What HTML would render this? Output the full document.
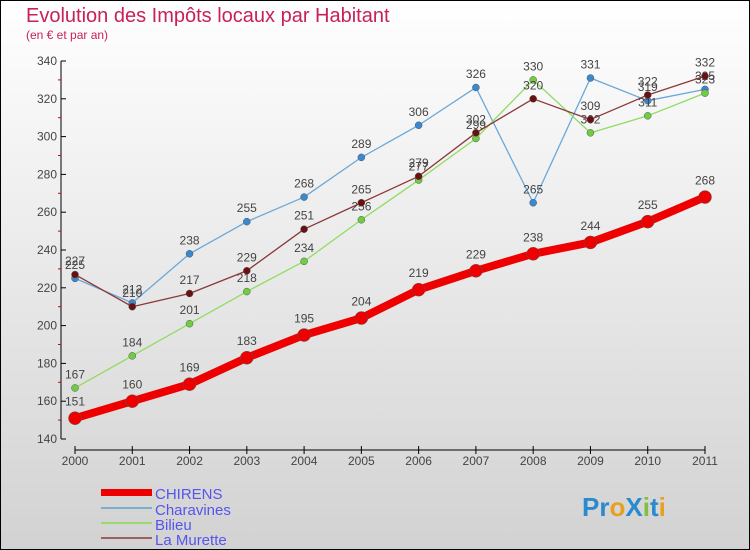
<!DOCTYPE html>
<html><head><meta charset="utf-8"><style>
body{margin:0;}
svg{display:block;font-family:"Liberation Sans",sans-serif;}
</style></head><body>
<svg id="chart" width="750" height="550" viewBox="0 0 750 550">
<defs><linearGradient id="bg" x1="0" y1="0" x2="0" y2="1"><stop offset="0" stop-color="#ffffff"/><stop offset="1" stop-color="#d2d2d2"/></linearGradient></defs>
<rect x="0.5" y="0.5" width="749" height="549" fill="url(#bg)" stroke="#000"/>
<text x="26" y="22" font-size="20" fill="#c8205a">Evolution des Impôts locaux par Habitant</text>
<text x="26" y="39" font-size="12" fill="#c8205a">(en € et par an)</text>
<g id="axes"></g><g id="series"></g>
<g>
<rect x="101" y="489" width="51" height="7" fill="#e00"/>
<text x="155" y="499" font-size="15" fill="#5555ee">CHIRENS</text>
<rect x="101" y="507" width="51" height="2" fill="#7aaed0"/>
<text x="155" y="515" font-size="15" fill="#5555ee">Charavines</text>
<rect x="101" y="522" width="51" height="2" fill="#9ad870"/>
<text x="155" y="530" font-size="15" fill="#5555ee">Bilieu</text>
<rect x="101" y="537" width="51" height="2" fill="#9a6060"/>
<text x="155" y="545" font-size="15" fill="#5555ee">La Murette</text>
</g>
<g font-size="26" font-weight="bold">
<text x="582" y="516"><tspan fill="#2a8ad0">Pr</tspan><tspan fill="#e8a020">o</tspan><tspan fill="#2a8ad0">X</tspan><tspan fill="#80c040">i</tspan><tspan fill="#2a8ad0">t</tspan><tspan fill="#e8a020">i</tspan></text>
</g>
</svg>
<script>
const years=[2000,2001,2002,2003,2004,2005,2006,2007,2008,2009,2010,2011];
const chirens=[151,160,169,183,195,204,219,229,238,244,255,268];
const charavines=[225,212,238,255,268,289,306,326,265,331,319,325];
const bilieu=[167,184,201,218,234,256,277,299,330,302,311,323];
const murette=[227,210,217,229,251,265,279,302,320,309,322,332];
const yTicks=[140,160,180,200,220,240,260,280,300,320,340];
const NS="http://www.w3.org/2000/svg";
const xS=i=>75+i*(630/11);
const yS=v=>439-(v-140)*1.89;
function mk(t,a,p){const e=document.createElementNS(NS,t);for(const k in a)e.setAttribute(k,a[k]);p.appendChild(e);return e;}
const ax=document.getElementById('axes');
const yl=mk('line',{x1:61,y1:yS(340),x2:61,y2:yS(140),stroke:'#000'},ax);


yTicks.forEach(v=>{
 mk('line',{x1:61,y1:yS(v),x2:66,y2:yS(v),stroke:'#000'},ax);
 if(v<340){const m=mk('line',{x1:58,y1:yS(v+10),x2:61,y2:yS(v+10),stroke:'#d00'},ax);}
 const t=mk('text',{x:57,y:yS(v)+4,'text-anchor':'end','font-size':12,fill:'#444'},ax);t.textContent=v;
 
 
});
const xl=mk('line',{x1:75,y1:450,x2:705,y2:450,stroke:'#000'},ax);


years.forEach((y,i)=>{
 mk('line',{x1:xS(i),y1:446,x2:xS(i),y2:454,stroke:'#000'},ax);
 const t=mk('text',{x:xS(i),y:465,'text-anchor':'middle','font-size':12,fill:'#444'},ax);t.textContent=y;
 
 
});
const sg=document.getElementById('series');
function draw(vals,name,color,dot,w,r){
 const g=mk('g',{},sg);
 
 
 const l=mk('polyline',{points:vals.map((v,i)=>xS(i)+','+yS(v)).join(' '),fill:'none',stroke:color,'stroke-width':w,'stroke-linejoin':'round'},g);
 
 
 vals.forEach((v,i)=>{
  const c=mk('circle',{cx:xS(i),cy:yS(v),r:r,fill:dot,stroke:'#555','stroke-width':0.5},g);
  
  
  const t=mk('text',{x:xS(i),y:yS(v)-(r+6),'text-anchor':'middle','font-size':12,fill:'#444'},g);t.textContent=v;
  
  
 });
}
draw(charavines,'charavines','#6aa8d8','#3a88d0',1.3,3.5);
draw(bilieu,'bilieu','#90dc60','#70cc40',1.3,3.5);
draw(murette,'la-murette','#8a3838','#6a1010',1.3,3.5);
draw(chirens,'chirens','#ee0000','#ee0000',8,6.5);
</script>
</body></html>
